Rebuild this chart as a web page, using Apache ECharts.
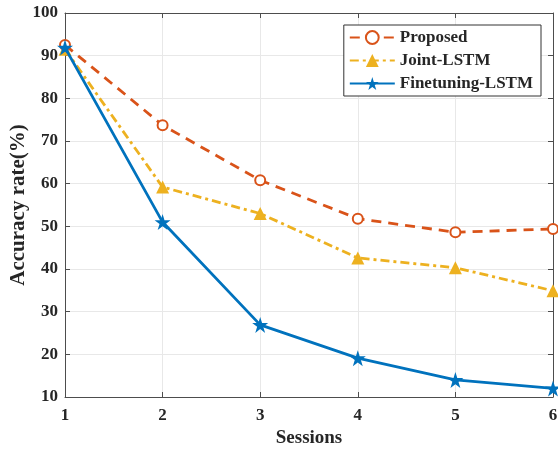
<!DOCTYPE html>
<html>
<head>
<meta charset="utf-8">
<script src="https://cdn.jsdelivr.net/npm/echarts@6/dist/echarts.min.js"></script>
<style>
  html, body { margin: 0; padding: 0; background: #fff; }
  #chart { width: 558px; height: 450px; }
</style>
</head>
<body>
<div id="chart"></div>
<script>
(function () {
    'use strict';
    var sessions = [1, 2, 3, 4, 5, 6];
    var proposed = [92.5, 73.7, 60.8, 51.8, 48.6, 49.4];
    var jointLSTM = [91.5, 59.2, 53.0, 42.6, 40.3, 34.9];
    var finetuningLSTM = [91.9, 51.0, 26.9, 19.1, 14.0, 12.0];

    function pairs(values) {
        return sessions.map(function (s, i) { return [s, values[i]]; });
    }

    var font = 'Liberation Serif';
    var axisColor = '#4d4d4d';
    var textColor = '#262626';

    var myChart = echarts.init(document.getElementById('chart'));

    // 坐标轴公共样式
    function axisBase(showLabel) {
        return {
            type: 'value',
            axisLine: { show: true, lineStyle: { color: axisColor, width: 1 } },
            axisTick: { show: true, inside: true, length: 5, lineStyle: { color: axisColor } },
            axisLabel: {
                show: showLabel,
                color: textColor,
                fontFamily: font,
                fontWeight: 'bold',
                fontSize: 17
            }
        };
    }

    var xBottom = axisBase(true);
    xBottom.min = 1; xBottom.max = 6; xBottom.interval = 1;
    xBottom.position = 'bottom';
    xBottom.name = 'Sessions';
    xBottom.nameLocation = 'middle';
    xBottom.nameGap = 32;
    xBottom.nameMoveOverlap = false;
    xBottom.nameTextStyle = { color: textColor, fontFamily: font, fontWeight: 'bold', fontSize: 19 };
    xBottom.axisLabel.margin = 10;
    xBottom.splitLine = { show: true, lineStyle: { color: '#e8e8e8' } };

    var xTop = axisBase(false);
    xTop.min = 1; xTop.max = 6; xTop.interval = 1;
    xTop.position = 'top';
    xTop.splitLine = { show: false };

    var yLeft = axisBase(true);
    yLeft.min = 10; yLeft.max = 100; yLeft.interval = 10;
    yLeft.position = 'left';
    yLeft.name = 'Accuracy rate(%)';
    yLeft.nameLocation = 'middle';
    yLeft.nameGap = 36;
    yLeft.nameMoveOverlap = false;
    yLeft.nameTextStyle = { color: textColor, fontFamily: font, fontWeight: 'bold', fontSize: 21 };
    yLeft.axisLabel.margin = 7;
    yLeft.splitLine = { show: true, lineStyle: { color: '#e8e8e8' } };

    var yRight = axisBase(false);
    yRight.min = 10; yRight.max = 100; yRight.interval = 10;
    yRight.position = 'right';
    yRight.splitLine = { show: false };

    var option = {
        animation: false,
        backgroundColor: '#fff',
        grid: { left: 65, right: 5, top: 13, bottom: 53, containLabel: false, outerBoundsMode: 'none' },
        legend: {
            right: 17,
            top: 25,
            orient: 'vertical',
            itemWidth: 45,
            itemHeight: 16,
            itemGap: 6,
            padding: [4, 8, 4, 5],
            backgroundColor: '#fff',
            borderColor: '#333',
            borderWidth: 1,
            borderRadius: 0,
            textStyle: { color: textColor, fontFamily: font, fontWeight: 'bold', fontSize: 17 },
            data: ['Proposed', 'Joint-LSTM', 'Finetuning-LSTM']
        },
        xAxis: [xBottom, xTop],
        yAxis: [yLeft, yRight],
        series: [{
            name: 'Proposed',
            type: 'line',
            data: pairs(proposed),
            symbol: 'emptyCircle',
            symbolSize: 10,
            color: '#D95319',
            itemStyle: { color: '#D95319', borderWidth: 2.5 },
            lineStyle: { color: '#D95319', width: 2.8, type: [10, 7] },
            z: 3
        }, {
            name: 'Joint-LSTM',
            type: 'line',
            data: pairs(jointLSTM),
            symbol: 'triangle',
            symbolSize: 13,
            color: '#EDB120',
            itemStyle: { color: '#EDB120' },
            lineStyle: { color: '#EDB120', width: 2.8, type: [9, 4, 3, 4] },
            z: 2
        }, {
            name: 'Finetuning-LSTM',
            type: 'line',
            data: pairs(finetuningLSTM),
            symbol: 'path://M50,0 L61.8,35.4 L100,35.4 L69.1,57.3 L80.9,92.7 L50,70.8 L19.1,92.7 L30.9,57.3 L0,35.4 L38.2,35.4 Z',
            symbolSize: 16,
            color: '#0072BD',
            itemStyle: { color: '#0072BD' },
            lineStyle: { color: '#0072BD', width: 2.8 },
            z: 4
        }]
    };

    myChart.setOption(option);
    window.addEventListener('resize', function () {
        myChart.resize();
    });
})();
</script>
</body>
</html>
